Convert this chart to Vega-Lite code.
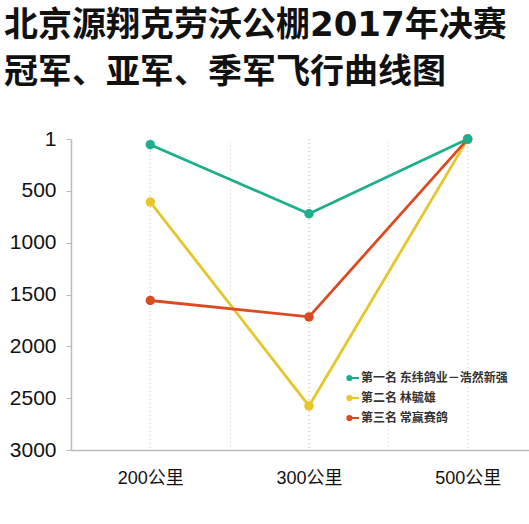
{
  "$schema": "https://vega.github.io/schema/vega-lite/v6.json",
  "autosize": "none",
  "width": 476,
  "height": 311,
  "padding": {"left": 71, "top": 139, "right": 0, "bottom": 74},
  "background": "white",
  "title": {
    "text": ["北京源翔克劳沃公棚2017年决赛", "冠军、亚军、季军飞行曲线图"],
    "font": "DejaVu Sans, Noto Sans CJK SC",
    "fontSize": 34,
    "fontWeight": "bold",
    "color": "#111111",
    "anchor": "start",
    "frame": "group",
    "dx": -67,
    "lineHeight": 47,
    "letterSpacing": 0.5,
    "offset": 38
  },
  "data": {
    "values": [
      {"series": "第一名 东纬鸽业－浩然新强", "distance": "200公里", "rank": 55},
      {"series": "第一名 东纬鸽业－浩然新强", "distance": "300公里", "rank": 721},
      {"series": "第一名 东纬鸽业－浩然新强", "distance": "500公里", "rank": 1},
      {"series": "第二名 林毓雄", "distance": "200公里", "rank": 608},
      {"series": "第二名 林毓雄", "distance": "300公里", "rank": 2575},
      {"series": "第二名 林毓雄", "distance": "500公里", "rank": 1},
      {"series": "第三名 常赢赛鸽", "distance": "200公里", "rank": 1558},
      {"series": "第三名 常赢赛鸽", "distance": "300公里", "rank": 1716},
      {"series": "第三名 常赢赛鸽", "distance": "500公里", "rank": 1}
    ]
  },
  "encoding": {
    "x": {
      "field": "distance",
      "type": "nominal",
      "sort": ["200公里", "300公里", "500公里"],
      "bandPosition": 0.5,
      "scale": {"type": "band", "paddingInner": 0, "paddingOuter": 0},
      "axis": {
        "title": null,
        "labelAngle": 0,
        "labelFont": "Liberation Sans, Noto Sans CJK SC",
        "labelFontSize": 18,
        "labelColor": "#111111",
        "labelPadding": 19,
        "ticks": false,
        "domainColor": "#bbbbbb",
        "domainWidth": 1.5,
        "grid": true,
        "tickBand": "extent",
        "gridColor": "#d0d0d0",
        "gridDash": [1, 3],
        "gridWidth": 1
      }
    }
  },
  "layer": [
    {
      "mark": {"type": "rule", "stroke": "#e0d0d0", "strokeDash": [1, 3], "strokeWidth": 1},
      "encoding": {
        "x": {"field": "distance", "type": "nominal", "sort": ["200公里", "300公里", "500公里"], "bandPosition": 0.5}
      }
    },
    {
      "mark": {"type": "line", "strokeWidth": 2.8, "point": {"filled": true, "size": 90, "opacity": 1}},
      "encoding": {
        "y": {
          "field": "rank",
          "type": "quantitative",
          "scale": {"domain": [0, 3000], "reverse": true, "nice": false, "zero": false},
          "axis": {
            "title": null,
            "values": [0, 500, 1000, 1500, 2000, 2500, 3000],
            "format": "d",
            "labelExpr": "datum.value == 0 ? '1' : datum.label",
            "labelFont": "Liberation Sans",
            "labelFontSize": 21,
            "labelColor": "#111111",
            "labelPadding": 10,
            "tickColor": "#bbbbbb",
            "tickSize": 5,
            "domainColor": "#bbbbbb",
            "domainWidth": 1.5,
            "grid": false
          }
        },
        "color": {
          "field": "series",
          "type": "nominal",
          "sort": ["第一名 东纬鸽业－浩然新强", "第二名 林毓雄", "第三名 常赢赛鸽"],
          "scale": {
            "domain": ["第一名 东纬鸽业－浩然新强", "第二名 林毓雄", "第三名 常赢赛鸽"],
            "range": ["#1fae8c", "#e8c52a", "#dc4a22"]
          },
          "legend": {
            "title": null,
            "orient": "none",
            "legendX": 275,
            "legendY": 232,
            "labelFont": "Noto Sans CJK SC",
            "labelFontSize": 12,
            "labelFontWeight": "bold",
            "labelColor": "#333333",
            "labelOffset": 1,
            "rowPadding": 6,
            "symbolType": "M-0.95,0A0.35,0.35 0 1,0 -0.25,0A0.35,0.35 0 1,0 -0.95,0ZM-0.6,0L1,0",
            "symbolSize": 144,
            "symbolStrokeWidth": 2
          }
        },
        "order": {"field": "series", "sort": "descending"}
      }
    }
  ],
  "config": {"view": {"stroke": null}}
}
